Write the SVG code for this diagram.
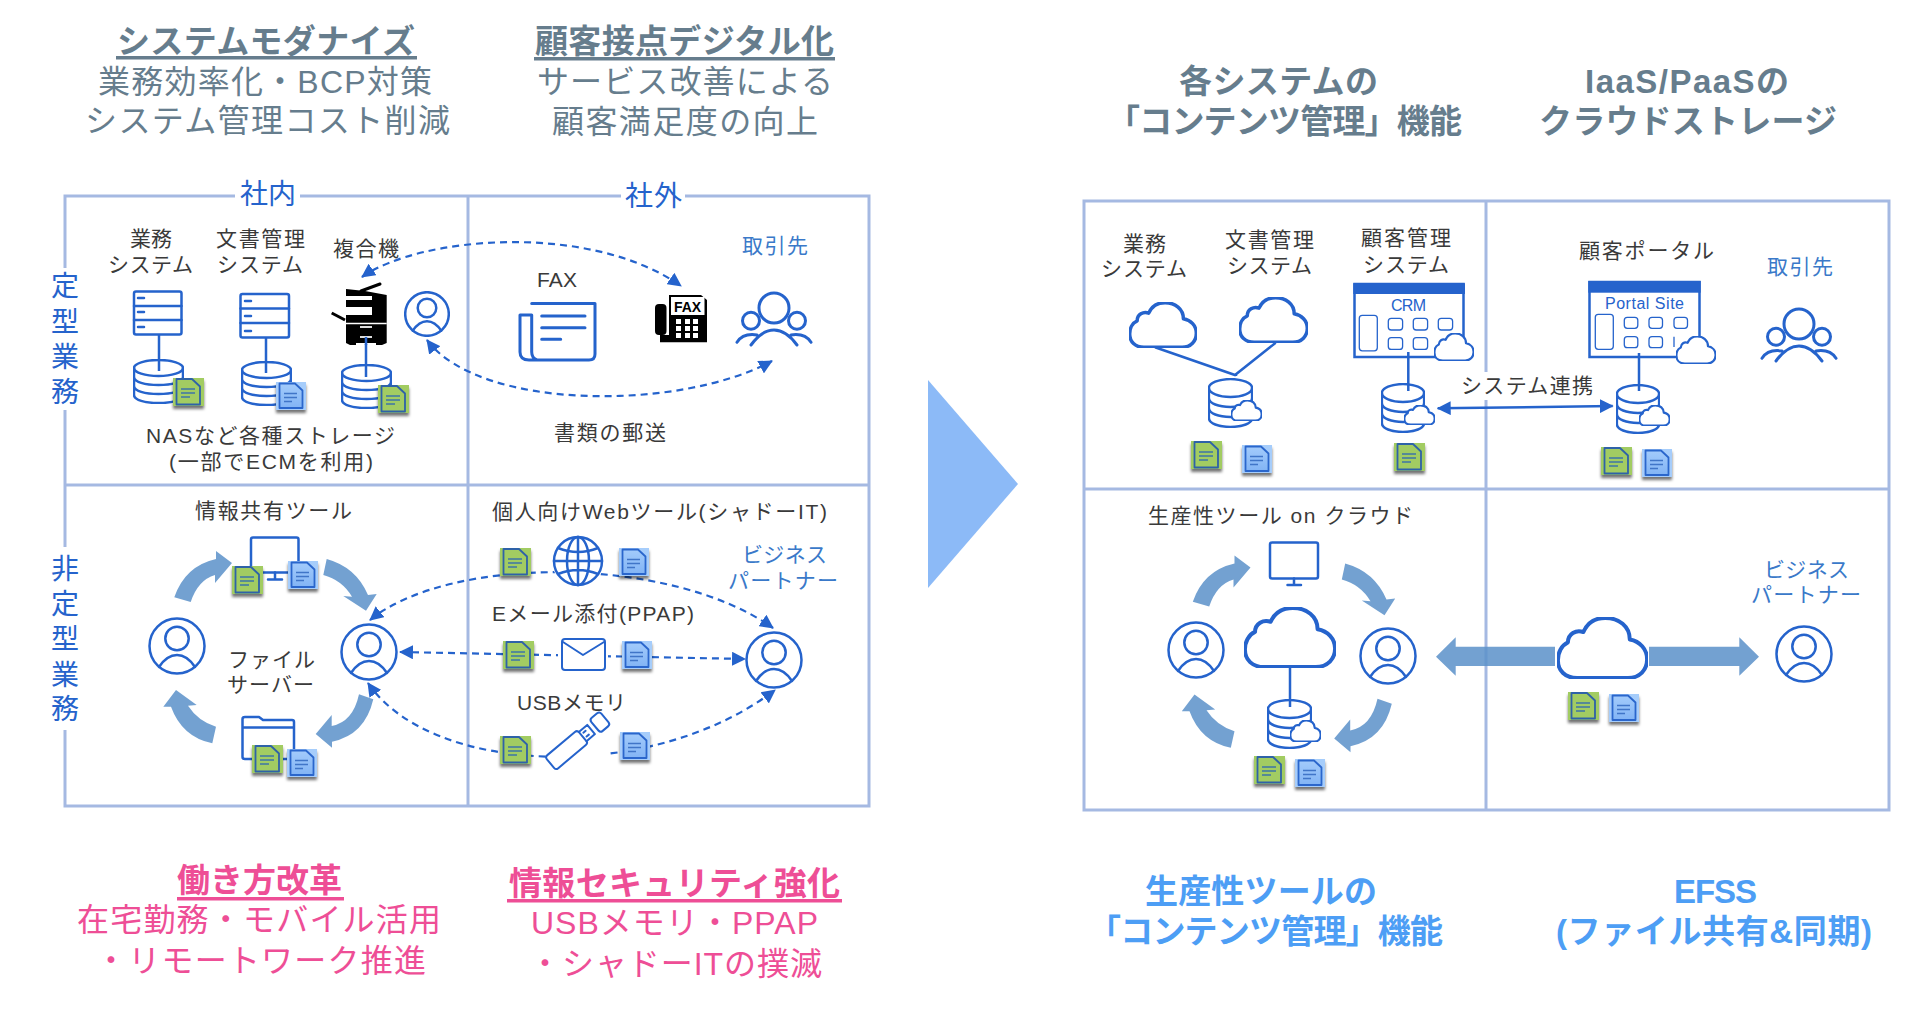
<svg xmlns="http://www.w3.org/2000/svg" width="1930" height="1016" viewBox="0 0 1930 1016">
<style>
text{font-family:"Liberation Sans","Noto Sans CJK JP",sans-serif;}
.h{font-size:32px;fill:#667d8d}
.hb{font-size:33px;fill:#667d8d;font-weight:700}
.p{font-size:32px;fill:#ee4e96}
.pb{font-size:33px;fill:#ee4e96;font-weight:700}
.bb{font-size:33px;fill:#4d9ef5;font-weight:700}
.lb{font-size:21px;fill:#3a3a3a}
.bl{font-size:21px;fill:#3a79c9}
.sec{font-size:28px;fill:#2563cc}
.win{font-size:16px;fill:#2563cc}
.grid{fill:none;stroke:#a5b9e2;stroke-width:3}
.ic{fill:none;stroke:#2563cc;stroke-width:2.5;stroke-linecap:round;stroke-linejoin:round}
.ns{vector-effect:non-scaling-stroke}
.dash{fill:none;stroke:#2563cc;stroke-width:2.2;stroke-dasharray:7 5;marker-start:url(#ah);marker-end:url(#ah)}
.solid{fill:none;stroke:#2563cc;stroke-width:2.5}
.blk{fill:#000}
.wht{fill:#fff}
.ring{fill:#5a91c9;fill-opacity:.85}
</style>
<defs>
<marker id="ah" viewBox="0 0 14 14" refX="13" refY="7" markerWidth="14" markerHeight="14" markerUnits="userSpaceOnUse" orient="auto-start-reverse"><path d="M0,0L14,7L0,14Z" fill="#2563cc"/></marker>
<filter id="sh" x="-20%" y="-20%" width="140%" height="150%"><feDropShadow dx="0" dy="3" stdDeviation="1.6" flood-color="#000" flood-opacity=".55"/></filter>
<linearGradient id="gb" x1="0" y1="0" x2="0" y2="1"><stop offset="0" stop-color="#a3cbfb"/><stop offset="1" stop-color="#82b4f5"/></linearGradient>
<symbol id="dg" viewBox="0 0 31 28" width="31" height="28" overflow="visible">
<rect width="31" height="28" fill="#a2cc62"/>
<path d="M3.5,1H19L27,8.5V26.5H3.5Z" fill="#a2cc62" stroke="#2f62a8" stroke-width="1.8" stroke-linejoin="round"/>
<path d="M8,11H22M8,15H22M8,19H17" stroke="#3f74a8" stroke-width="1.4" fill="none"/>
</symbol>
<symbol id="db" viewBox="0 0 30 28" width="30" height="28" overflow="visible">
<rect width="30" height="28" fill="#a6cdfb"/>
<path d="M3.5,1.5H19L26.5,8.5V26H3.5Z" fill="url(#gb)" stroke="#2a66cc" stroke-width="1.8" stroke-linejoin="round"/>
<path d="M8,11.5H21M8,15.5H21M8,19.5H16" stroke="#3f74c8" stroke-width="1.4" fill="none"/>
</symbol>
<symbol id="dbs" viewBox="0 0 51 45" preserveAspectRatio="none">
<g class="ic"><ellipse class="ns" cx="25.5" cy="9" rx="24.5" ry="8"/>
<path class="ns" d="M1,9V36C1,41 12,44 25.5,44S50,41 50,36V9M1,18C1,23 12,26 25.5,26S50,23 50,18M1,27C1,32 12,35 25.5,35S50,32 50,27"/></g>
</symbol>
<symbol id="cloud" viewBox="0 0 100 66" preserveAspectRatio="none">
<path class="ns" d="M22,65H78C91,65 99,56 99,45C99,34 91,26 80,24C80,10 68,1 53,1C41,1 33,7 29,16C21,13 12,18 12,27C5,30 1,38 1,46C1,57 9,65 22,65Z" fill="#fff" stroke="#2563cc" stroke-linejoin="round"/>
</symbol>
<symbol id="person" viewBox="-29 -29 58 58">
<g class="ic" fill="#fff"><circle class="ns" r="27.5" fill="#fff"/><circle class="ns" cy="-7.5" r="11.7"/><path class="ns" d="M-18,21C-12,12 -6,9 0,9C6,9 12,12 18,21"/></g>
</symbol>
<symbol id="group" viewBox="-40 -17 80 57" width="80" height="57">
<g class="ic" style="stroke-width:3"><circle cy="0" r="15"/><circle cx="-23" cy="12.7" r="8.5"/><circle cx="23" cy="12.7" r="8.5"/>
<path d="M-23,37C-15,26 -7,22 0,22C7,22 15,26 23,37M-37,34.3C-33,28 -27,25.5 -17,27M37,34.3C33,28 27,25.5 17,27"/></g>
</symbol>
<g id="ring">
<path class="ring" d="M174.3,597.3Q185,566 216,559L216,551L232,563L215,583L215,575Q198,580 190.7,602Z"/>
<path class="ring" d="M326.7,559Q356,567 368,595L376.7,594L366,610.7L343.3,596L352,596.7Q342,580 323.3,575Z"/>
<path class="ring" d="M373.3,699.3Q365,735 332,741.7L332,747.7L315.7,734L331.7,715L331.7,726Q353,722 359,694.3Z"/>
<path class="ring" d="M216,726.7Q198,721 188,705.7L196.7,705L176,690L163.3,706.7L171,706.7Q182,737 212.3,743.3Z"/>
</g>
</defs>
<rect width="1930" height="1016" fill="#fff"/>

<g id="grid-left">
<rect class="grid" x="65" y="196" width="804" height="610"/>
<path class="grid" d="M468,196V806M65,485H869"/>
<rect class="wht" x="235" y="186" width="65" height="20"/>
<rect class="wht" x="621" y="186" width="64" height="20"/>
<rect class="wht" x="55" y="268" width="20" height="142"/>
<rect class="wht" x="55" y="547" width="20" height="183"/>
</g>
<g id="grid-right">
<rect class="grid" x="1084" y="201" width="805" height="609"/>
<path class="grid" d="M1486,201V810M1084,489H1889"/>
<rect class="wht" x="1460" y="372" width="135" height="28"/>
</g>

<g id="headers">
<text class="hb" x="117" y="53" textLength="298">システムモダナイズ</text>
<rect x="116" y="56" width="301" height="3.5" fill="#667d8d"/>
<text class="h" x="98" y="93" textLength="334">業務効率化・BCP対策</text>
<text class="h" x="85" y="132" textLength="365">システム管理コスト削減</text>
<text class="hb" x="535" y="53" textLength="299">顧客接点デジタル化</text>
<rect x="534" y="57" width="301" height="3.5" fill="#667d8d"/>
<text class="h" x="537" y="93" textLength="296">サービス改善による</text>
<text class="h" x="552" y="133" textLength="266">顧客満足度の向上</text>
<text class="hb" x="1179" y="93" textLength="199">各システムの</text>
<text class="hb" x="1107" y="133" textLength="355">「コンテンツ管理」機能</text>
<text class="hb" x="1585" y="93" textLength="204">IaaS/PaaSの</text>
<text class="hb" x="1539" y="133" textLength="298">クラウドストレージ</text>
<text class="pb" x="177" y="892" textLength="165">働き方改革</text>
<rect x="177" y="897" width="167" height="3.5" fill="#ee4e96"/>
<text class="p" x="77" y="931" textLength="364">在宅勤務・モバイル活用</text>
<text class="p" x="95" y="972" textLength="331">・リモートワーク推進</text>
<text class="pb" x="509" y="895" textLength="331">情報セキュリティ強化</text>
<rect x="507" y="899" width="335" height="3.5" fill="#ee4e96"/>
<text class="p" x="531" y="934" textLength="287">USBメモリ・PPAP</text>
<text class="p" x="529" y="975" textLength="293">・シャドーITの撲滅</text>
<text class="bb" x="1145" y="903" textLength="232">生産性ツールの</text>
<text class="bb" x="1088" y="943" textLength="355">「コンテンツ管理」機能</text>
<text class="bb" x="1674" y="903" textLength="83">EFSS</text>
<text class="bb" x="1556" y="943" textLength="316">(ファイル共有&amp;同期)</text>
</g>

<g id="section-labels">
<text class="sec" x="240" y="204" textLength="56">社内</text>
<text class="sec" x="625" y="206" textLength="57">社外</text>
<text class="sec" x="51" y="296">定</text><text class="sec" x="51" y="332">型</text><text class="sec" x="51" y="367">業</text><text class="sec" x="51" y="402">務</text>
<text class="sec" x="51" y="579">非</text><text class="sec" x="51" y="614">定</text><text class="sec" x="51" y="649">型</text><text class="sec" x="51" y="685">業</text><text class="sec" x="51" y="719">務</text>
</g>

<path id="big-arrow" d="M928,380L1018,484L928,588Z" fill="#8cbaf7"/>

<g id="connectors">
<path class="solid" d="M159,334V371M266,338V373M366,344V377"/>
<path class="dash" d="M362,277C420,236 590,222 681,286"/>
<path class="dash" d="M427,340C480,411 680,411 772,361"/>
<path class="dash" d="M370,620C450,555 670,555 773,628"/>
<path class="dash" d="M400,652L745,659"/>
<path class="dash" d="M368,683C430,775 650,785 775,690"/>
<path class="solid" d="M1155,347.3L1235,375L1275.7,342.7M1236,375V376M1408.3,352V391M1639,353V391M1290,667V707"/>
<path class="solid" d="M1437.7,408.3L1612.7,406" marker-start="url(#ah)" marker-end="url(#ah)"/>
</g>

<g id="ring-left"><use href="#ring"/></g>
<g id="ring-right"><use href="#ring" transform="translate(1018.5,4.5)"/></g>

<g id="n-gyomu">
<text class="lb" x="130" y="246" textLength="42">業務</text>
<text class="lb" x="108" y="272" textLength="85">システム</text>
<g class="ic"><rect x="134" y="291.5" width="47.5" height="43" rx="2"/><path d="M134,306H181.5M134,320H181.5M138,298H144M138,312H144M138,327H144"/></g>
<use href="#dbs" x="133" y="359" width="51" height="45"/>
<use href="#dg" x="173" y="378" filter="url(#sh)"/>
</g>
<g id="n-bunsho">
<text class="lb" x="216" y="246" textLength="89">文書管理</text>
<text class="lb" x="217" y="272" textLength="86">システム</text>
<g class="ic"><rect x="240.5" y="294" width="48.5" height="43.5" rx="2"/><path d="M240.5,308.5H289M240.5,323H289M245,301H251M245,316H251M245,331H251"/></g>
<use href="#dbs" x="241" y="361" width="51" height="45"/>
<use href="#db" x="276" y="382" filter="url(#sh)"/>
</g>
<g id="n-mfp">
<text class="lb" x="333" y="256" textLength="66">複合機</text>
<path class="blk" d="M346,289L365,291L386.7,295V315H372V307H346V300H372V296H346Z"/>
<path class="blk" d="M346,315H386.7V338H346Z"/>
<path class="blk" d="M346,338H386.7V343L382,345H376V343H356V345H350L346,343Z"/>
<path d="M361,291L380,284" stroke="#000" stroke-width="3" stroke-linecap="round"/>
<path d="M331.7,313L345,320" stroke="#000" stroke-width="3"/>
<path d="M346,323.5H386.7" stroke="#fff" stroke-width="1.5"/>
<path d="M360,327H372M360,337H372" stroke="#ddd" stroke-width="2"/>
<path class="solid" d="M366,337V345"/>
<use href="#dbs" x="341" y="364" width="51" height="45"/>
<use href="#dg" x="378" y="385" filter="url(#sh)"/>
</g>
<g id="n-user-internal"><use href="#person" x="404" y="291" width="46" height="46"/></g>
<g id="n-fax-paper">
<text class="lb" x="537" y="287" textLength="40">FAX</text>
<g class="ic" style="stroke-width:3"><path d="M531.7,303.5H595V354Q595,360 589,360H537M531.7,315H520V352Q520,360 529,360H537Q531.7,358 531.7,352Z"/><path d="M541.7,316H585M541.7,327.7H585M541.7,339.3H560.7"/></g>
</g>
<g id="n-fax-machine">
<rect class="blk" x="655" y="304" width="11.5" height="31" rx="4"/>
<path class="blk" d="M669,295H701L707,300V342.3H660V335H669Z"/>
<rect class="wht" x="671" y="297" width="33.5" height="18"/>
<text x="674" y="312" font-size="14" font-weight="700" fill="#000" textLength="27">FAX</text>
<g class="wht"><rect x="676" y="319" width="5" height="5"/><rect x="685" y="319" width="5" height="5"/><rect x="693" y="319" width="5" height="5"/><rect x="676" y="326" width="5" height="5"/><rect x="685" y="326" width="5" height="5"/><rect x="693" y="326" width="5" height="5"/><rect x="676" y="333" width="5" height="5"/><rect x="685" y="333" width="5" height="5"/><rect x="693" y="333" width="5" height="5"/></g>
</g>
<g id="n-torihiki-left">
<text class="bl" x="742" y="253" textLength="66">取引先</text>
<use href="#group" x="734" y="291"/>
</g>
<g id="n-mail-label"><text class="lb" x="554" y="440" textLength="112">書類の郵送</text></g>
<g id="n-nas">
<text class="lb" x="146" y="443" textLength="249">NASなど各種ストレージ</text>
<text class="lb" x="169" y="469" textLength="204">(一部でECMを利用)</text>
</g>

<g id="n-share">
<text class="lb" x="195" y="518" textLength="157">情報共有ツール</text>
<g class="ic"><rect x="251" y="537.5" width="47.5" height="35" rx="2"/><path d="M275,572.5V579M268,579.5H282"/></g>
<use href="#dg" x="232" y="566" filter="url(#sh)"/>
<use href="#db" x="288" y="561" filter="url(#sh)"/>
</g>
<g id="n-user-a"><use href="#person" x="148" y="617" width="58" height="58"/></g>
<g id="n-user-b"><use href="#person" x="340" y="623" width="58" height="58"/></g>
<g id="n-fileserver">
<text class="lb" x="228" y="667" textLength="87">ファイル</text>
<text class="lb" x="227" y="692" textLength="87">サーバー</text>
<g class="ic"><path d="M242.5,727V719Q242.5,717 245,717H259L263,720H292Q294,720 294,722V759H245Q242.5,759 242.5,757ZM242.5,727.5H294"/></g>
<use href="#dg" x="252" y="745" filter="url(#sh)"/>
<use href="#db" x="287" y="749" filter="url(#sh)"/>
</g>
<g id="n-web">
<text class="lb" x="492" y="519" textLength="335">個人向けWebツール(シャドーIT)</text>
<use href="#dg" x="500" y="548" filter="url(#sh)"/>
<circle cx="578" cy="561" r="26" fill="#fff"/>
<g class="ic"><circle cx="578" cy="561" r="24"/><ellipse cx="578" cy="561" rx="11" ry="24"/><path d="M578,537V585M554,561H602M558,548Q578,556 598,548M558,574Q578,566 598,574"/></g>
<use href="#db" x="619" y="548" filter="url(#sh)"/>
</g>
<g id="n-email">
<text class="lb" x="492" y="621" textLength="202">Eメール添付(PPAP)</text>
<use href="#dg" x="503" y="641" filter="url(#sh)"/>
<rect x="558" y="636" width="50" height="37" fill="#fff"/>
<g class="ic" style="stroke-width:2"><rect x="562" y="639" width="43" height="31" rx="3"/><path d="M563,642L583,655L604,642"/></g>
<use href="#db" x="622" y="641" filter="url(#sh)"/>
</g>
<g id="n-usb">
<text class="lb" x="517" y="710" textLength="109">USBメモリ</text>
<use href="#dg" x="500" y="736" filter="url(#sh)"/>
<rect x="546" y="722" width="60" height="50" fill="#fff"/>
<g class="ic" transform="translate(575,743) rotate(-40)" style="stroke-width:2"><rect x="-32" y="-8.5" width="42" height="17" rx="3"/><path d="M10,-6H21V6H10M13,-2.500H16M13,2.500H16"/><rect x="26" y="-8.5" width="13" height="17" rx="3"/></g>
<use href="#db" x="620" y="732" filter="url(#sh)"/>
</g>
<g id="n-partner-left">
<text class="bl" x="742" y="562" textLength="85">ビジネス</text>
<text class="bl" x="728" y="588" textLength="110">パートナー</text>
<use href="#person" x="745" y="631" width="58" height="58"/>
</g>

<g id="n-r-gyomu">
<text class="lb" x="1123" y="251" textLength="43">業務</text>
<text class="lb" x="1101" y="276" textLength="86">システム</text>
<use href="#cloud" x="1129" y="302" width="68" height="46" stroke-width="3.5"/>
</g>
<g id="n-r-bunsho">
<text class="lb" x="1225" y="247" textLength="89">文書管理</text>
<text class="lb" x="1227" y="273" textLength="85">システム</text>
<use href="#cloud" x="1239" y="297" width="69" height="46" stroke-width="3.5"/>
</g>
<g id="n-r-db1">
<use href="#dbs" x="1208" y="378" width="45" height="50"/>
<use href="#cloud" x="1231" y="400" width="31" height="21" stroke-width="2.2"/>
<use href="#dg" x="1191" y="441" filter="url(#sh)"/>
<use href="#db" x="1242" y="445" filter="url(#sh)"/>
</g>
<g id="n-r-crm">
<text class="lb" x="1361" y="245" textLength="90">顧客管理</text>
<text class="lb" x="1363" y="272" textLength="86">システム</text>
<rect x="1354.5" y="284" width="109" height="73" fill="none" stroke="#2563cc" stroke-width="2.5"/>
<rect x="1353.3" y="283.3" width="111.7" height="10.7" fill="#2563cc"/>
<text class="win" x="1391" y="311" textLength="35">CRM</text>
<g fill="none" stroke="#2563cc" stroke-width="1.3"><rect x="1359.3" y="315.3" width="18" height="35.5" rx="3"/><rect x="1388.3" y="318.3" width="14.3" height="11.7" rx="3"/><rect x="1413.3" y="318.3" width="14.3" height="11.7" rx="3"/><rect x="1438.3" y="318.3" width="14.3" height="11.7" rx="3"/><rect x="1388.3" y="337.7" width="14.3" height="11.7" rx="3"/><rect x="1413.3" y="337.7" width="14.3" height="11.7" rx="3"/></g>
<use href="#cloud" x="1434" y="333" width="40" height="28" stroke-width="2.2"/>
</g>
<g id="n-r-crm-db">
<use href="#dbs" x="1381" y="383" width="44" height="50"/>
<use href="#cloud" x="1404" y="405" width="31" height="20" stroke-width="2.2"/>
<use href="#dg" x="1394" y="443" filter="url(#sh)"/>
</g>
<g id="n-r-link"><text class="lb" x="1461" y="393" textLength="132">システム連携</text></g>
<g id="n-r-portal">
<text class="lb" x="1579" y="258" textLength="135">顧客ポータル</text>
<rect x="1589.5" y="282" width="110" height="75" fill="none" stroke="#2563cc" stroke-width="2.5"/>
<rect x="1588.3" y="281" width="112.4" height="11.7" fill="#2563cc"/>
<text class="win" x="1605" y="309" textLength="79">Portal Site</text>
<g fill="none" stroke="#2563cc" stroke-width="1.3"><rect x="1595.3" y="314.3" width="18" height="35" rx="3"/><rect x="1624.3" y="317.3" width="13.5" height="11" rx="3"/><rect x="1649" y="317.3" width="13.5" height="11" rx="3"/><rect x="1674" y="317.3" width="13.5" height="11" rx="3"/><rect x="1624.3" y="336.7" width="13.5" height="11" rx="3"/><rect x="1649" y="336.7" width="13.5" height="11" rx="3"/><path d="M1674,336.7V347"/></g>
<use href="#cloud" x="1676" y="336" width="40" height="28" stroke-width="2.2"/>
</g>
<g id="n-r-portal-db">
<use href="#dbs" x="1616" y="384" width="44" height="50"/>
<use href="#cloud" x="1639" y="405" width="31" height="21" stroke-width="2.2"/>
<use href="#dg" x="1601" y="447" filter="url(#sh)"/>
<use href="#db" x="1642" y="449" filter="url(#sh)"/>
</g>
<g id="n-r-torihiki">
<text class="bl" x="1767" y="274" textLength="66">取引先</text>
<use href="#group" x="1759" y="307"/>
</g>

<g id="n-r-prod">
<text class="lb" x="1148" y="523" textLength="265">生産性ツール on クラウド</text>
<g class="ic"><rect x="1270" y="542.5" width="48" height="36" rx="2"/><path d="M1294,578.5V585M1287.5,585H1301"/></g>
<use href="#cloud" x="1244" y="607" width="92" height="61" stroke-width="4"/>
<use href="#dbs" x="1267" y="699" width="45" height="50"/>
<use href="#cloud" x="1290" y="720" width="31" height="22" stroke-width="2.2"/>
<use href="#dg" x="1254" y="756" filter="url(#sh)"/>
<use href="#db" x="1295" y="759" filter="url(#sh)"/>
</g>
<g id="n-r-user-a"><use href="#person" x="1167" y="621" width="58" height="58"/></g>
<g id="n-r-user-b"><use href="#person" x="1359" y="627" width="58" height="58"/></g>
<g id="n-r-efss">
<path class="ring" d="M1436,656.7L1455.7,637.3V646.7H1555V666H1455.7V675.7Z"/>
<path class="ring" d="M1649,646.7H1739.3V637.3L1759,656.7L1739.3,675.7V666H1649Z"/>
<use href="#cloud" x="1557" y="617" width="91" height="62" stroke-width="4"/>
<use href="#dg" x="1568" y="692" filter="url(#sh)"/>
<use href="#db" x="1609" y="694" filter="url(#sh)"/>
</g>
<g id="n-r-partner">
<text class="bl" x="1764" y="577" textLength="85">ビジネス</text>
<text class="bl" x="1751" y="602" textLength="110">パートナー</text>
<use href="#person" x="1775" y="625" width="58" height="58"/>
</g>
</svg>
